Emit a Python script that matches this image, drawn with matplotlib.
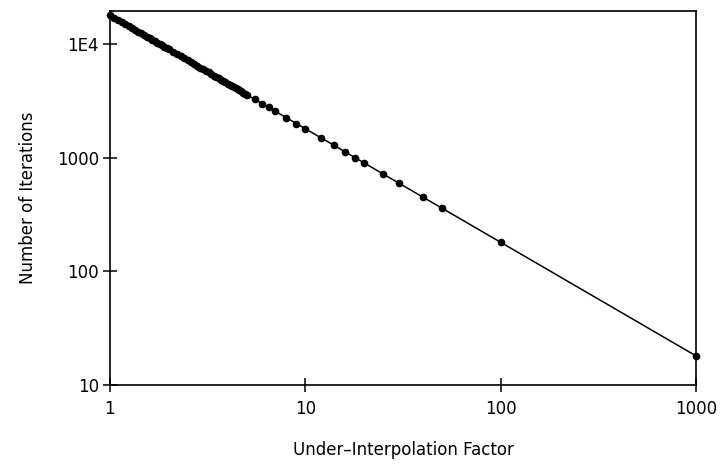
import numpy as np
import matplotlib.pyplot as plt

# under-interpolation factor (x) and number of iterations (y)
factor = [1.00, 1.05, 1.10, 1.15, 1.20, 1.25, 1.30, 1.35, 1.40, 1.45,
          1.50, 1.55, 1.60, 1.65, 1.70, 1.75, 1.80, 1.85, 1.90, 1.95,
          2.0, 2.1, 2.2, 2.3, 2.4, 2.5, 2.6, 2.7, 2.8, 2.9,
          3.0, 3.1, 3.2, 3.3, 3.4, 3.5, 3.6, 3.7, 3.8, 3.9,
          4.0, 4.1, 4.2, 4.3, 4.4, 4.5, 4.6, 4.7, 4.8, 4.9,
          5.0, 5.5, 6, 6.5, 7, 8, 9, 10, 12, 14,
          16, 18, 20, 25, 30, 40, 50, 100, 1000]
iterations = [18000, 17140, 16360, 15650, 15000, 14400, 13850, 13330, 12860, 12410,
              12000, 11610, 11250, 10910, 10590, 10290, 10000, 9730, 9470, 9230,
              9000, 8570, 8180, 7830, 7500, 7200, 6920, 6670, 6430, 6210,
              6000, 5810, 5630, 5450, 5290, 5140, 5000, 4860, 4740, 4620,
              4500, 4390, 4290, 4190, 4090, 4000, 3910, 3830, 3750, 3670,
              3600, 3270, 3000, 2770, 2570, 2250, 2000, 1800, 1500, 1290,
              1125, 1000, 900, 720, 600, 450, 360, 180, 18]

xticks = [1, 10, 100, 1000]
xtick_labels = ["1", "10", "100", "1000"]
yticks = [10, 100, 1000, 10000]
ytick_labels = ["10", "100", "1000", "1E4"]

fig = plt.figure(figsize=(7.23, 4.65), dpi=100)
ax = fig.add_axes([0.152, 0.172, 0.811, 0.804])

ax.plot(factor, iterations, 'k-', lw=1.1, marker='o', ms=4.5,
        mfc='black', mec='black', clip_on=False)

ax.set_xscale('log')
ax.set_yscale('log')
ax.set_xlim(1, 1000)
ax.set_ylim(10, 19500)

ax.set_xticks(xticks)
ax.set_xticklabels(xtick_labels)
ax.set_yticks(yticks)
ax.set_yticklabels(ytick_labels)
ax.minorticks_off()
ax.tick_params(which='major', direction='inout', length=10, width=1.1,
               labelsize=12, color='black')
ax.tick_params(axis='x', pad=6)
ax.tick_params(axis='y', pad=3)

for s in ax.spines.values():
    s.set_linewidth(1.2)

ax.set_xlabel("Under–Interpolation Factor", fontsize=12, labelpad=16)
ax.set_ylabel("Number of Iterations", fontsize=12, labelpad=14)

fig.savefig("out.png", dpi=100)
